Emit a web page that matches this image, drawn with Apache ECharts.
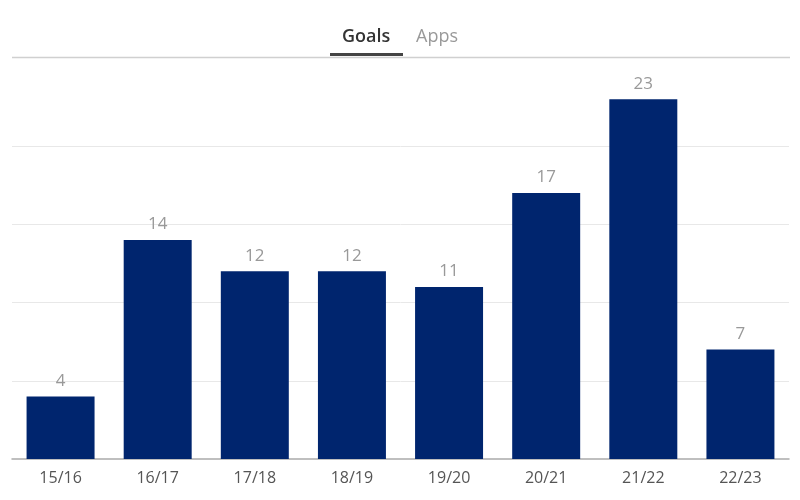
<!DOCTYPE html>
<html><head><meta charset="utf-8">
<script src="https://cdn.jsdelivr.net/npm/echarts@6/dist/echarts.min.js"></script>
<style>html,body{margin:0;padding:0;background:#fff}#c{width:800px;height:500px}</style>
</head><body><div id="c"></div>
<script>
var categories = ['15/16','16/17','17/18','18/19','19/20','20/21','21/22','22/23'];
var goals = [4,14,12,12,11,17,23,7];
var tabs = ['Goals','Apps'];

var chart = echarts.init(document.getElementById('c'));
chart.setOption({
  animation: false,
  grid: {left: 12, right: 11, top: 68, bottom: 41},
  graphic: [
    {type:'line', shape:{x1:12,y1:57.5,x2:790,y2:57.5}, style:{stroke:'#d0d0d0', lineWidth:1.5}, z:10},
    {type:'rect', shape:{x:330,y:53,width:73,height:3}, style:{fill:'#444'}, z:11},
    {type:'text', left: 342, top: 28, style:{text: tabs[0], fill:'#333', font:'600 18px "Open Sans"'}},
    {type:'text', left: 416, top: 28, style:{text: tabs[1], fill:'#999', font:'18px "Open Sans"'}}
  ],
  xAxis: {
    type:'category', data: categories,
    axisLine:{lineStyle:{color:'#aaa', width:1.5}},
    axisTick:{show:false},
    axisLabel:{color:'#555', fontSize:16, fontFamily:'Open Sans', margin:11}
  },
  yAxis: {
    type:'value', min:0, max:25, interval:5,
    axisLabel:{show:false}, axisLine:{show:false}, axisTick:{show:false},
    splitLine:{show:true, showMinLine:false, showMaxLine:false, lineStyle:{color:'#e8e8e8', width:1}}
  },
  series: [{
    type:'bar', data: goals, barWidth:'70%',
    itemStyle:{color:'#00256e'},
    label:{show:true, position:'top', color:'#999', fontSize:17, fontFamily:'Open Sans', distance:7}
  }]
});
</script></body></html>
